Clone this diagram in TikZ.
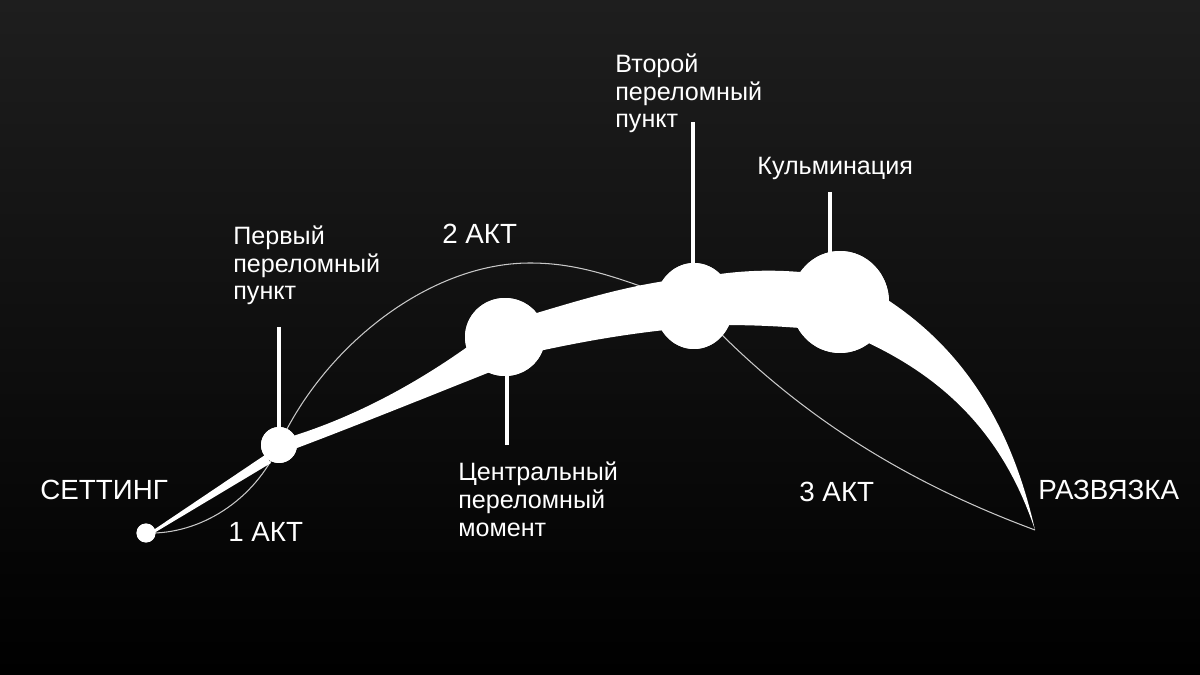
\documentclass[tikz,border=0pt]{standalone}
\usepackage{fontspec}
\setmainfont{Liberation Sans}
\usetikzlibrary{shapes.geometric}
\definecolor{bgtop}{RGB}{30,30,30}
\definecolor{bgbot}{RGB}{0,0,0}
\definecolor{thinln}{RGB}{200,200,200}
\tikzset{
  knot/.style={ellipse, fill=white, inner sep=0},
  tick/.style={white, line width=2pt},
  arcline/.style={thinln, line width=0.6pt},
  lbl/.style={text=white, inner sep=0, anchor=base west, align=left,
              font=\fontsize{14.3}{15.9}\selectfont},
  caps/.style={lbl, font=\fontsize{15.8}{18}\selectfont},
}
\begin{document}
\begin{tikzpicture}[x=0.02cm, y=-0.02cm]
  \shade[top color=bgtop, bottom color=bgbot] (0,0) rectangle (1200,675);
  \useasboundingbox (0,0) rectangle (1200,675);

  \node[knot, minimum width=0.38cm, minimum height=0.38cm] (set) at (146,533) {};
  \node[knot, minimum width=0.72cm, minimum height=0.72cm] (p1) at (279,445) {};
  \node[knot, minimum width=1.6cm, minimum height=1.56cm] (mid) at (505,337) {};
  \node[knot, minimum width=1.56cm, minimum height=1.72cm] (p2) at (694,306) {};
  \node[knot, minimum width=1.96cm, minimum height=2.04cm] (klm) at (840,302) {};
  \coordinate (raz) at (1035,530);

  % thin act line
  \draw[arcline] (set.center) .. controls (200,535) and (255,500) .. (p1.center);
  \draw[arcline] (p1.center) .. controls (325,345) and (430,263) .. (530,263)
                             .. controls (580,263) and (620,278) .. (p2.center);
  \draw[arcline] (p2.center) .. controls (790,410) and (900,480) .. (raz);

  % band
  \fill[white] (150.5,532) -- (265,455) -- (271,463) -- (151.5,534.5) -- cycle;
  \fill[white] (283,440) -- (293,436) .. controls (350,418) and (410,388) .. (470,345)
               -- (490,372) .. controls (420,400) and (350,428) .. (297,448) -- cycle;
  \fill[white] (530,315) .. controls (580,300) and (620,288) .. (665,281)
               -- (665,330) .. controls (620,335) and (580,342) .. (530,353) -- cycle;
  \fill[white] (720,274) .. controls (750,270) and (775,270) .. (800,272)
               -- (800,328) .. controls (775,326) and (750,325) .. (720,325) -- cycle;
  \fill[white] (880,295) .. controls (960,345) and (1010,420) .. (raz)
               .. controls (1005,440) and (950,380) .. (862,340) -- cycle;

  \node[knot, minimum width=0.38cm, minimum height=0.38cm] at (set) {};
  \node[knot, minimum width=0.72cm, minimum height=0.72cm] at (p1) {};
  \node[knot, minimum width=1.6cm, minimum height=1.56cm] at (mid) {};
  \node[knot, minimum width=1.56cm, minimum height=1.72cm] at (p2) {};
  \node[knot, minimum width=1.96cm, minimum height=2.04cm] at (klm) {};

  \coordinate (t1) at (279,327);
  \coordinate (tm) at (507,445);
  \coordinate (t2) at (693,122);
  \coordinate (tk) at (830,192);
  \draw[tick] (t1) -- (t1 |- p1);
  \draw[tick] (tm) -- (tm |- mid);
  \draw[tick] (t2) -- (t2 |- p2);
  \draw[tick] (tk) -- (tk |- klm);

  \node[caps] (lset) at (40,499) {СЕТТИНГ};
  \node[caps] (a1) at (228,541) {1 АКТ};
  \node[caps] (a2) at (442,244) {2 АКТ};
  \node[caps] (a3) at (799,501) {3 АКТ};
  \node[caps] (lraz) at (1038,499) {РАЗВЯЗКА};
  \node[lbl] (lp1) at (233,300) {Первый\\переломный\\пункт};
  \node[lbl] (lp2) at (615,128) {Второй\\переломный\\пункт};
  \node[lbl] (lklm) at (757,175) {Кульминация};
  \node[lbl] (lmid) at (458,536) {Центральный\\переломный\\момент};
\end{tikzpicture}
\end{document}
